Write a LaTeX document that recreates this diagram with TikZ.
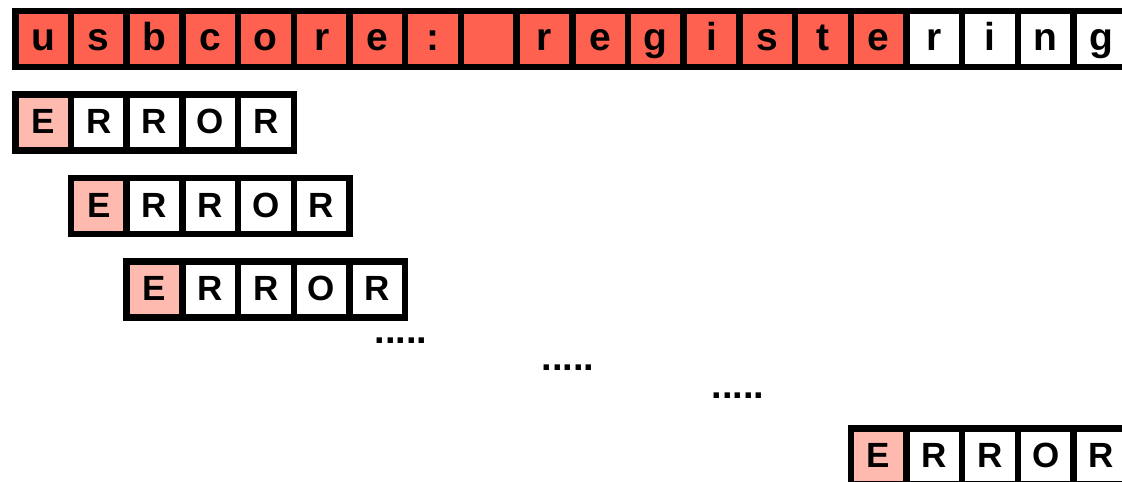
\documentclass[tikz,border=0pt]{standalone}
\usepackage{fontspec}
\setmainfont{Liberation Sans}
\definecolor{cred}{HTML}{FF6150}
\definecolor{cpink}{HTML}{FFBAB0}
\begin{document}
\begin{tikzpicture}[x=1pt,y=-1pt,
  cell/.style={draw=black,line width=6.5pt,minimum width=55.7pt,minimum height=56pt,
    inner sep=0pt,text height=26pt,text depth=3pt,anchor=north west,
    font=\fontsize{35}{35}\selectfont\bfseries},
  topcell/.style={cell,text height=27pt,text depth=3.6pt,font=\fontsize{39}{39}\selectfont\bfseries},
  dots/.style={anchor=base,inner sep=0pt,font=\fontsize{38}{38}\selectfont\bfseries}]
\useasboundingbox (0,0) rectangle (1122,482);
\clip (0,0) rectangle (1122,482);
% top row
\foreach \ch/\col [count=\i from 0] in {u/cred,s/cred,b/cred,c/cred,o/cred,r/cred,e/cred,:/cred,\relax/cred,r/cred,e/cred,g/cred,i/cred,s/cred,t/cred,e/cred,r/white,i/white,n/white,g/white}
  \node[topcell,fill=\col] (t\i) at ({12+\i*55.7},7.5) {\ch};
% ERROR rows
\foreach \r/\c/\rr in {0/0/0,1/1/1,2/2/2,3/15/4}
  \foreach \ch/\col [count=\i from 0] in {E/cpink,R/white,R/white,O/white,R/white}
    \node[cell,fill=\col] (e\r-\i) at ({12+(\c+\i)*55.7},{91+\rr*83.5}) {\ch};
% dots
\node[dots] (d1) at (401,343) {.....};
\node[dots] (d2) at (568,370) {.....};
\node[dots] (d3) at (738,398) {.....};
\end{tikzpicture}
\end{document}
